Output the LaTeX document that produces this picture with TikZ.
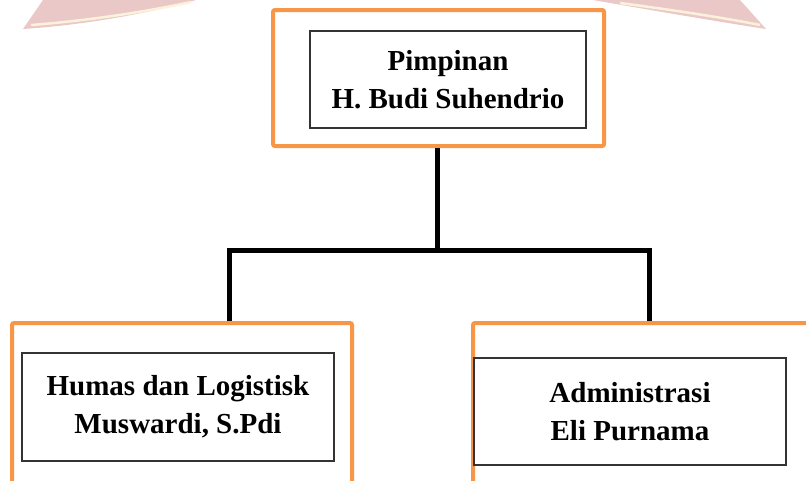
\documentclass[tikz,border=0pt]{standalone}
\usepackage{fontspec}
\setmainfont{Liberation Serif}
\definecolor{orgline}{HTML}{F79646}
\definecolor{wmpink}{HTML}{EBC8C8}
\definecolor{wmcream}{HTML}{FAF2DA}
\tikzset{
  outerbox/.style={draw=orgline, line width=4pt, rounded corners=2pt, minimum width=#1, inner sep=0pt},
  innerbox/.style={draw=black!80, line width=1.1pt, fill=white, align=center, inner sep=0pt,
     font=\fontsize{29}{38}\selectfont\bfseries},
  conn/.style={draw=black, line width=5pt, line join=miter}
}
\begin{document}
\begin{tikzpicture}[x=1pt,y=-1pt]
\useasboundingbox (0,0) rectangle (806,480);
\clip (0,0) rectangle (806,480);
\fill[white] (0,0) rectangle (806,480);
% watermark ribbons
\fill[wmpink] (23,29) -- (43,0) -- (196,0) .. controls (150,13) and (85,25) .. (23,29) -- cycle;
\draw[wmcream, line width=2.5pt] (31,25) .. controls (85,21) and (145,12) .. (191,2);
\fill[wmpink] (593,0) -- (740,0) -- (766,29) .. controls (720,22) and (650,10) .. (593,0) -- cycle;
\draw[wmcream, line width=2.5pt] (620,3) .. controls (680,11) and (725,18) .. (760,25);
% boxes
\node[outerbox=331pt, minimum height=136pt] (ot) at (438.5,78) {};
\node[innerbox, minimum width=276pt, minimum height=97pt] (it) at (448,79.5) {Pimpinan\\H. Budi Suhendrio};
\node[outerbox=340pt, minimum height=197pt] (ol) at (182,421.5) {};
\node[innerbox, minimum width=312pt, minimum height=108pt] (il) at (178,407) {Humas dan Logistisk\\Muswardi, S.Pdi};
\node[outerbox=357pt, minimum height=197pt] (or) at (651.5,421.5) {};
\node[innerbox, minimum width=312pt, minimum height=107pt] (ir) at (630,411.5) {Administrasi\\Eli Purnama};
% connectors
\coordinate (j) at (437.5,250);
\coordinate (jl) at (229,250);
\coordinate (jr) at (649,250);
\draw[conn] (ot.south -| j) -- (j);
\draw[conn] (ol.north -| jl) -- (jl) -- (jr) -- (or.north -| jr);
\end{tikzpicture}
\end{document}
